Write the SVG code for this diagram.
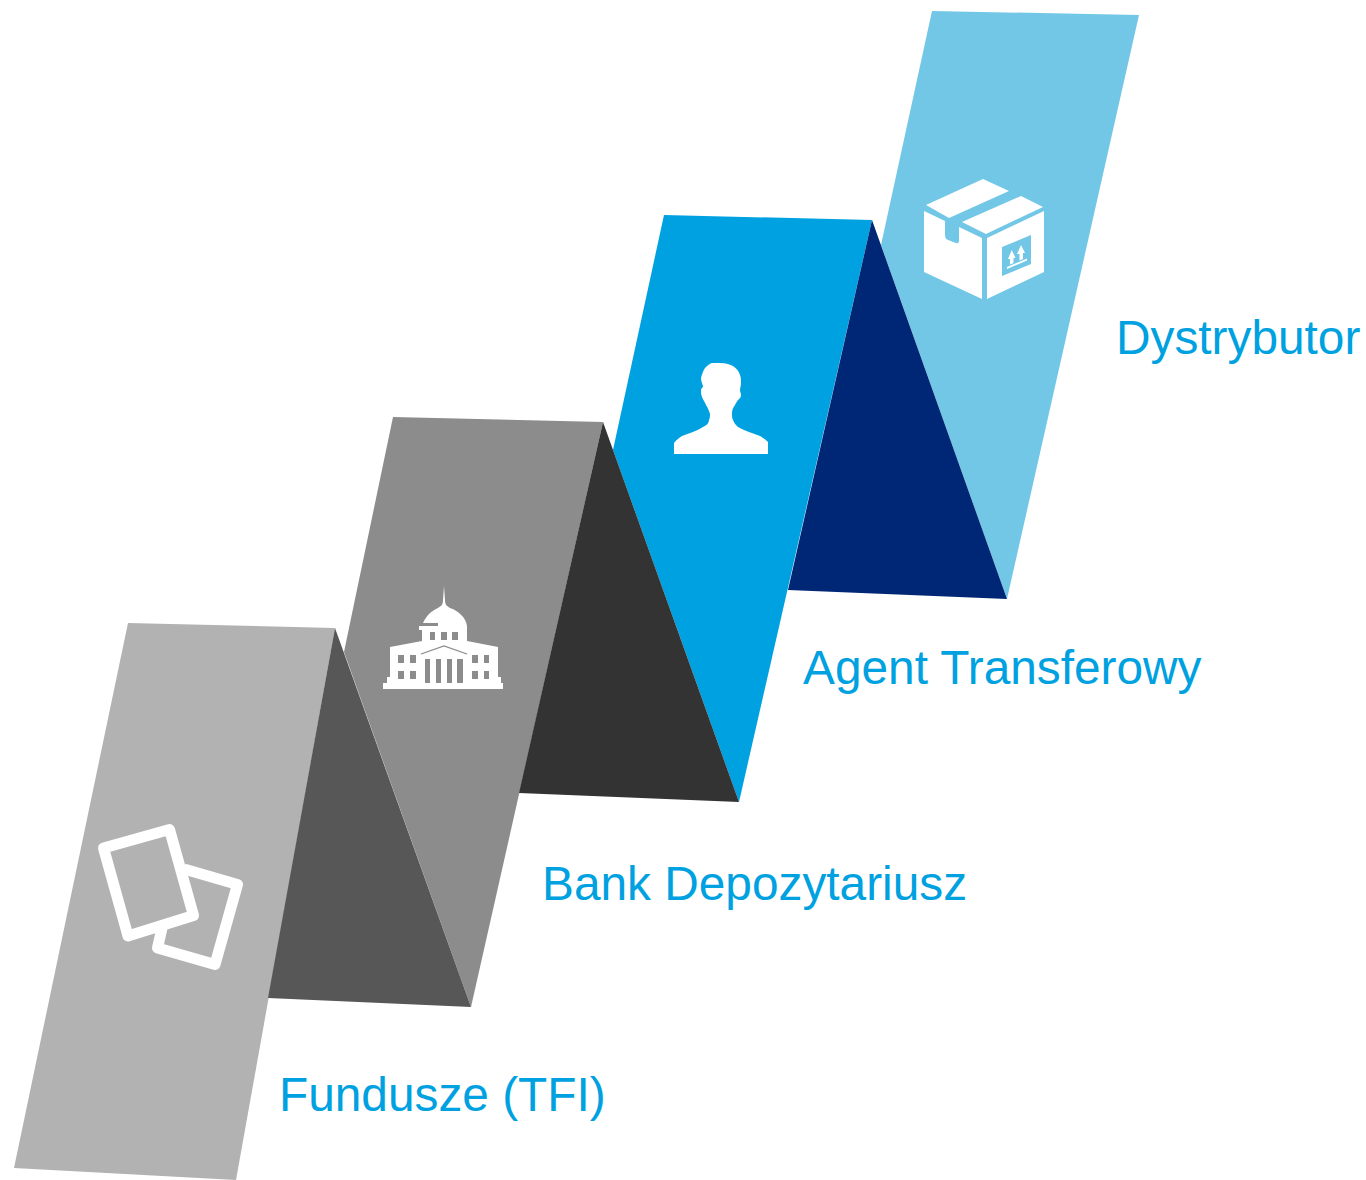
<svg xmlns="http://www.w3.org/2000/svg" width="1366" height="1180" viewBox="0 0 1366 1180">
<style>
text{font-family:"Liberation Sans",Arial,sans-serif;font-size:47.8px;fill:#00a1e0}
.w{fill:#fff}
</style>
<rect width="1366" height="1180" fill="#fff"/>
<g id="node-dystrybutor">
<polygon points="932,11 1139,15 1007,599 881,245" fill="#72c7e7"/>
<path class="w" d="M926,205L983,179L1009,191L949,218Z"/>
<path class="w" d="M962,222L1021,196L1043,207L986,234Z"/>
<path class="w" d="M924,211L945,221V235Q945,239 948,240L956,243Q959,244 959,240V227L982,238V299L924,272Z"/>
<path class="w" fill-rule="evenodd" d="M987,238L1044,211V272L987,299ZM1002,247V276L1031,264V235Z"/>
<path class="w" d="M1011.700,250L1015.500,258H1013.500V263L1010,264.500V259H1008ZM1021,245L1025,253H1023V259L1019.500,260.500V254H1017ZM1007,267L1027,258.500V260.500L1007,269Z"/>
<text x="1116" y="354">Dystrybutor</text>
</g>
<g id="node-agent">
<polygon points="664,215 872,220 739,802 613,450" fill="#00a1e0"/>
<polygon points="872,220 1007,599 788,590" fill="#002776"/>
<path class="w" d="M674,454V443C676,440 679,438 682,436C689,433 697,431 703,427C707,425 709,423 709,420C710,418 710,416 710,414C709,411 708,408 706,405C705,402 703,400 702,397C701,395 701,392 701,390C701,388 703,388 703,386C702,383 701,381 701,378C702,374 703,371 705,368C708,365 710,363 713,363H721C725,363 729,364 733,366C736,368 739,371 740,375C741,378 741,380 741,383C741,386 740,388 740,390C740,392 741,393 741,395C741,397 740,398 739,399C737,401 736,403 735,405C733,408 732,410 732,413C732,416 732,418 733,420C734,423 736,425 738,427C745,431 753,433 760,436C763,438 766,440 768,442V454Z"/>
<text x="803" y="684">Agent Transferowy</text>
</g>
<g id="node-bank">
<polygon points="393,417 603,422 471,1007 344,652" fill="#8c8c8c"/>
<polygon points="603,422 739,802 519,793" fill="#333333"/>
<path class="w" fill-rule="evenodd" d="M444,586L445,600C445,605 447,606 450,608C459,611 466,618 467,626V630H467V641L498,647V652H498V677H501V683H503V689H383V683H387V677H390V652H390V647L422,641V630H419V626H438V623H423C426,616 431,611 438,608C441,606 443,605 443,600Z
M430,632V640H435V632ZM441,632V640H447V632ZM452,632V640H458V632Z
M398,655V663H404V655ZM410,655V663H416V655ZM472,655V663H478V655ZM484,655V663H489V655Z
M398,671V679H404V671ZM410,671V679H416V671ZM472,671V679H478V671ZM484,671V679H489V671Z"/>
<g fill="#8c8c8c">
<path d="M421,654L444,646L467,654" fill="none" stroke="#8c8c8c" stroke-width="1.300"/>
<path d="M425,659H430V683H425ZM436,659H441V683H436ZM447,659H452V683H447ZM457,659H463V683H457Z"/>
</g>
<text x="542" y="900">Bank Depozytariusz</text>
</g>
<g id="node-fundusze">
<polygon points="128,623 335,628 236,1180 14,1168" fill="#b2b2b2"/>
<polygon points="335,628 471,1007 268,998" fill="#575757"/>
<g fill="none" stroke="#fff" stroke-width="11" stroke-linejoin="round">
<path d="M184,869L237.500,884.500L215,964.500L157.500,948L162,928"/>
<path d="M103.500,848L169.500,829.500L193.500,915.500L128,936Z"/>
</g>
<text x="279" y="1111">Fundusze (TFI)</text>
</g>
<g id="connectors"></g>
</svg>
